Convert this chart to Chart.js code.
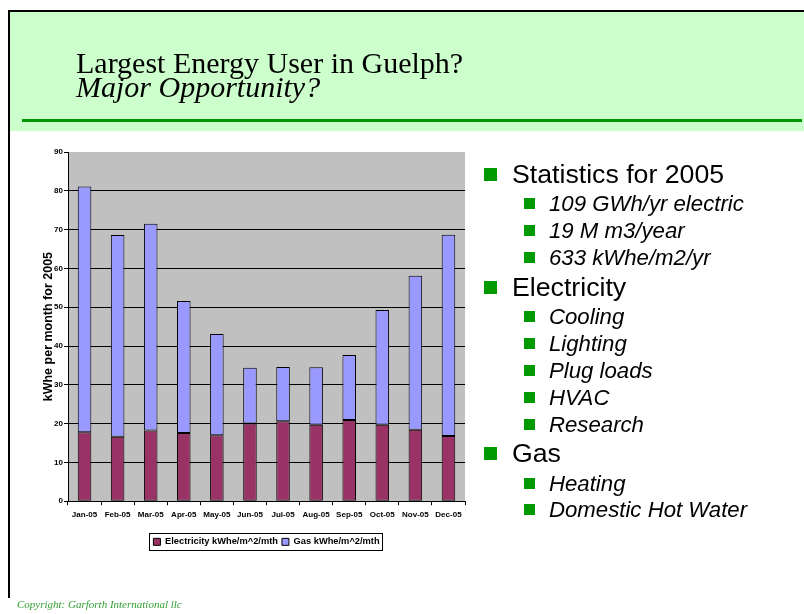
<!DOCTYPE html>
<html>
<head>
<meta charset="utf-8">
<script src="https://cdn.jsdelivr.net/npm/chart.js@4/dist/chart.umd.min.js"></script>
<style>
  html, body { margin: 0; padding: 0; background: #fff; }
  body { width: 804px; height: 614px; position: relative; overflow: hidden; }
  #chartWrap { position: absolute; left: 20px; top: 140px; width: 493px; height: 420px; }
  #deco { position: absolute; left: 0; top: 0; width: 804px; height: 614px; pointer-events: none; }
  #bg { position: absolute; left: 0; top: 0; width: 804px; height: 614px; }
</style>
</head>
<body>
<svg id="bg" width="804" height="614">
  <rect x="10" y="12" width="794" height="119" fill="#ccffcc"/>
</svg>
<div id="chartWrap"><canvas id="c" width="493" height="420"></canvas></div>
<svg id="deco" width="804" height="614" font-family="'Liberation Sans', Arial, sans-serif">
  <rect x="8" y="10" width="2" height="588" fill="#000"/>
  <rect x="8" y="10" width="796" height="2" fill="#000"/>
  <rect x="22" y="119" width="780" height="3" fill="#009900"/>
  <text x="76" y="73" font-family="'Liberation Serif', 'Times New Roman', serif" font-size="30" fill="#000">Largest Energy User in Guelph?</text>
  <text x="76" y="97" font-family="'Liberation Serif', 'Times New Roman', serif" font-size="30" font-style="italic" fill="#000">Major Opportunity?</text>
  <text x="17" y="608" font-family="'Liberation Serif', 'Times New Roman', serif" font-size="11" font-style="italic" fill="#33a033">Copyright: Garforth International llc</text>
  <g id="bullets"></g>
</svg>
<script>
// ---- data ----
const months = ['Jan-05','Feb-05','Mar-05','Apr-05','May-05','Jun-05','Jul-05','Aug-05','Sep-05','Oct-05','Nov-05','Dec-05'];
const electricity = [17.8, 16.6, 18.2, 17.6, 17.0, 20.0, 20.6, 19.7, 20.9, 19.7, 18.4, 16.8];
const gas = [63.3, 52.0, 53.3, 34.0, 26.1, 14.4, 14.0, 14.8, 16.8, 29.6, 39.7, 51.9];
const seriesNames = ['Electricity kWhe/m^2/mth', 'Gas kWhe/m^2/mth'];
const yAxisTitle = 'kWhe per month for 2005';
const yMin = 0, yMax = 90, yStep = 10;

const bulletItems = [
  [1, 'Statistics for 2005'],
  [2, '109 GWh/yr electric'],
  [2, '19 M m3/year'],
  [2, '633 kWhe/m2/yr'],
  [1, 'Electricity'],
  [2, 'Cooling'],
  [2, 'Lighting'],
  [2, 'Plug loads'],
  [2, 'HVAC'],
  [2, 'Research'],
  [1, 'Gas'],
  [2, 'Heating'],
  [2, 'Domestic Hot Water']
];

// ---- bullets ----
(function () {
  const ns = 'http://www.w3.org/2000/svg';
  const g = document.getElementById('bullets');
  const baselines = [183, 211, 238, 265, 296, 324, 351, 378, 405, 432, 462, 491, 517];
  bulletItems.forEach((it, i) => {
    const lvl = it[0], y = baselines[i];
    const r = document.createElementNS(ns, 'rect');
    const t = document.createElementNS(ns, 'text');
    if (lvl === 1) {
      r.setAttribute('x', 484); r.setAttribute('y', y - 15);
      r.setAttribute('width', 13); r.setAttribute('height', 13);
      t.setAttribute('x', 512); t.setAttribute('font-size', 26.7);
    } else {
      r.setAttribute('x', 524); r.setAttribute('y', y - 13);
      r.setAttribute('width', 11); r.setAttribute('height', 11);
      t.setAttribute('x', 549); t.setAttribute('font-size', 22.2);
      t.setAttribute('font-style', 'italic');
    }
    r.setAttribute('fill', '#009900');
    t.setAttribute('y', y);
    t.setAttribute('fill', '#000');
    t.textContent = it[1];
    g.appendChild(r); g.appendChild(t);
  });
})();

// ---- chart ----
const plotBg = {
  id: 'plotBg',
  beforeDraw(chart) {
    const a = chart.chartArea, ctx = chart.ctx;
    ctx.save(); ctx.fillStyle = '#c0c0c0';
    ctx.fillRect(a.left, a.top, a.right - a.left, a.bottom - a.top);
    ctx.restore();
  }
};
const legendBox = {
  id: 'legendBox',
  afterDraw(chart) {
    const hb = chart.legend && chart.legend.legendHitBoxes;
    if (!hb || !hb.length) return;
    const first = hb[0], last = hb[hb.length - 1];
    const cy = first.top + first.height / 2;
    const ctx = chart.ctx;
    ctx.save();
    ctx.strokeStyle = '#000'; ctx.lineWidth = 1;
    const x0 = Math.round(first.left - 4) + 0.5, x1 = Math.round(last.left + last.width + 2) + 0.5;
    const y0 = Math.round(cy - 8.5) + 0.5, y1 = Math.round(cy + 8.5) + 0.5;
    ctx.strokeRect(x0, y0, x1 - x0, y1 - y0);
    ctx.restore();
  }
};

Chart.defaults.color = '#000';
Chart.defaults.font.family = "'Liberation Sans', Arial, sans-serif";

const tickFont = { size: 8, weight: 'bold', family: "'Liberation Sans', Arial, sans-serif" };

new Chart(document.getElementById('c'), {
  type: 'bar',
  data: {
    labels: months,
    datasets: [
      { label: seriesNames[0], data: electricity, backgroundColor: '#993366', borderColor: '#000', borderWidth: 1, borderSkipped: false, yAxisID: 'y' },
      { label: seriesNames[1], data: gas, backgroundColor: '#9999ff', borderColor: '#000', borderWidth: 1, borderSkipped: false, yAxisID: 'y' }
    ]
  },
  options: {
    responsive: false,
    animation: false,
    devicePixelRatio: 1,
    layout: { padding: { top: 12, right: 0, left: 0, bottom: 3.5 } },
    datasets: { bar: { categoryPercentage: 1, barPercentage: 0.41 } },
    plugins: {
      tooltip: { enabled: false },
      legend: {
        position: 'bottom',
        labels: {
          boxWidth: 7, boxHeight: 7, padding: 4,
          font: { size: 9.3, weight: 'bold', family: "'Liberation Sans', Arial, sans-serif" },
          color: '#000'
        }
      }
    },
    scales: {
      x: {
        stacked: true,
        afterFit: s => { s.height = 32; },
        border: { color: '#000', width: 1 },
        grid: { offset: true, drawOnChartArea: false, drawTicks: true, tickLength: 4, color: '#000', tickColor: '#000' },
        ticks: { autoSkip: false, maxRotation: 0, minRotation: 0, padding: 5, font: tickFont, color: '#000' }
      },
      y: {
        stacked: true,
        position: 'left',
        min: yMin, max: yMax,
        afterFit: s => { s.width = 48; },
        border: { color: '#000', width: 1 },
        grid: {
          color: c => (c.tick && c.tick.value === yMax) ? 'rgba(0,0,0,0)' : '#000',
          tickColor: '#000', tickLength: 4, drawTicks: true
        },
        ticks: { stepSize: yStep, padding: 1, font: tickFont, color: '#000' },
        title: {
          display: true, text: yAxisTitle, color: '#000',
          font: { size: 12.5, weight: 'bold', family: "'Liberation Sans', Arial, sans-serif" },
          padding: { top: 21, bottom: 0 }
        }
      },
      yRight: {
        type: 'linear',
        position: 'right',
        min: yMin, max: yMax,
        afterFit: s => { s.width = 48; },
        border: { display: false },
        grid: { display: false, drawTicks: false },
        ticks: { display: false }
      }
    }
  },
  plugins: [plotBg, legendBox]
});
</script>
</body>
</html>
